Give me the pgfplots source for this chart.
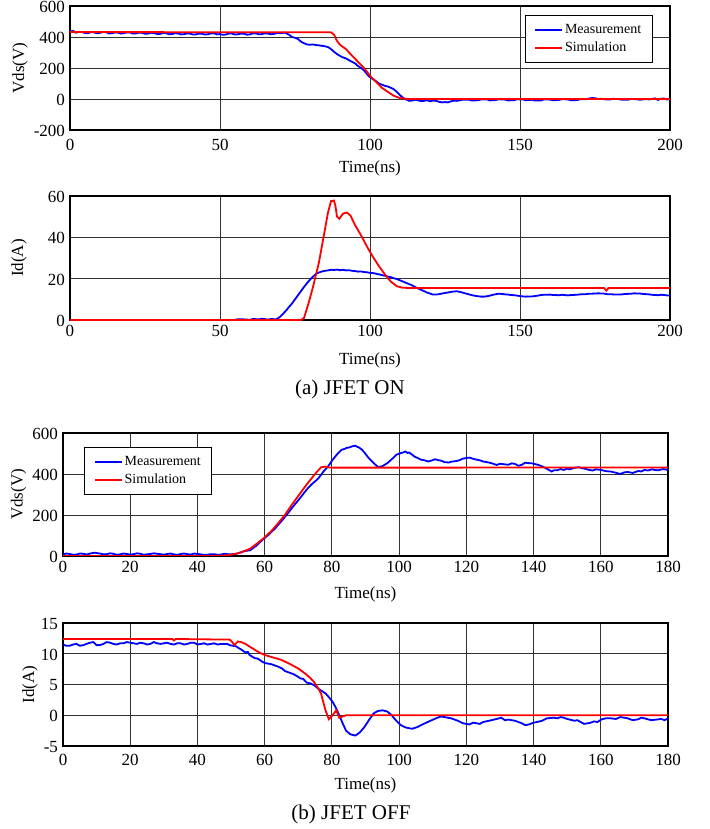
\documentclass[border=0pt]{standalone}
\usepackage{fontspec}
\setmainfont{Liberation Serif}
\usepackage{pgfplots}
\pgfplotsset{compat=1.18}
\pgfplotsset{
  myax/.style={
    scale only axis, anchor=north west,
    grid=major, major grid style={black!80, line width=0.8pt},
    axis line style={black, line width=1.2pt},
    major tick length=0pt,
    tick label style={font=\fontsize{17}{20}\selectfont},
    /pgf/number format/assume math mode=true,
    xlabel={Time(ns)},
    every axis x label/.style={at={(axis description cs:0.5,0)}, anchor=center, font=\fontsize{17}{20}\selectfont},
    every axis y label/.style={anchor=center, rotate=90, font=\fontsize{17}{20}\selectfont},
    yticklabel style={xshift=-1.5pt, yshift=-1pt},
    legend cell align=left,
    legend image code/.code={\draw[##1] (0pt,0pt) -- (27pt,0pt);},
    legend style={font=\fontsize{14}{16}\selectfont, draw=black, line width=0.8pt, fill=white,
      anchor=north west, inner xsep=9pt, inner ysep=7pt, row sep=3pt,
      nodes={inner xsep=2pt, inner ysep=2pt}},
  },
  meas/.style={blue, line width=1.8pt},
  sim/.style={red, line width=1.8pt},
}
\begin{document}
\begin{tikzpicture}
\useasboundingbox (0pt,0pt) rectangle (709pt,-829pt);
% ---------------- (a) Vds ON
\begin{axis}[myax, at={(70pt,-6pt)}, width=600pt, height=124pt,
  xmin=0, xmax=200, ymin=-200, ymax=600,
  xtick={0,50,...,200}, ytick={-200,0,...,600},
  xticklabel style={yshift=-6pt},
  xlabel style={yshift=-38pt}, ylabel={Vds(V)}, ylabel style={at={(axis description cs:-0.0833,0.5)}},
  legend style={at={(0.758,0.927)}}]
\addplot[meas] coordinates {(0,435)(1,440)(2,428)(3,433)(4,432)(5,426)(6,425)(7,431)(8,430)(9,424)(10,427)(11,432)(12,431)(13,423)(14,424)(15,430)(16,428)(17,422)(18,425)(19,430)(20,429)(21,422)(22,423)(23,428)(24,427)(25,421)(26,422)(27,427)(28,426)(29,419)(30,420)(31,426)(32,425)(33,418)(34,419)(35,424)(36,423)(37,417)(38,418)(39,423)(40,422)(41,416)(42,417)(43,422)(44,421)(45,416)(46,418)(47,423)(48,424)(49,417)(50,419)(51,414)(52,416)(53,423)(54,422)(55,416)(56,418)(57,422)(58,421)(59,415)(60,417)(61,424)(62,423)(63,417)(64,419)(65,424)(66,422)(67,418)(68,420)(69,426)(70,425)(71.7,428)(73,415)(74,400)(75,395)(76,387)(77,370)(78,360)(79,352)(80,350)(81,352)(82,348)(83,346)(84,343)(85,340)(86,335)(87,322)(88,305)(89,290)(90,278)(91,268)(92,262)(93,250)(94,240)(95,230)(96,213)(97,200)(98,185)(99,160)(100,140)(101,128)(102,115)(103,100)(104,92)(105,85)(106,80)(107,72)(108,62)(109,45)(110,25)(111,8)(112,-2)(113,-12)(114,-10)(115,-5)(116,-8)(117,-14)(118,-12)(119,-8)(120,-15)(121,-10)(122,-12)(123,-18)(124,-22)(125,-20)(126,-22)(127,-15)(128,-10)(129,-12)(130,-8)(131,-4)(133,-5)(134,-10)(136,-8)(137,-3)(139,-3)(140,-9)(142,-6)(143,-2)(145,-4)(146,-9)(148,-8)(149,-2)(151,-3)(152,-8)(154,-5)(155,-10)(157,-9)(158,-3)(160,-4)(161,-8)(163,-6)(164,-1)(166,-3)(167,-8)(169,-7)(170,-2)(172,-2)(173,3)(174,6)(175,5)(176,0)(177,2)(178,-2)(180,-3)(181,1)(183,-1)(184,-5)(186,-5)(187,1)(189,-2)(190,-5)(192,0)(193,-3)(195,4)(196,-6)(197,2)(198,3)(199,-3)(200,0)};
\addlegendentry{Measurement}
\addplot[sim] coordinates {(0,432)(87,430)(88,415)(88.5,395)(89,375)(90,350)(91,335)(92,322)(93,300)(94,280)(96,240)(98,200)(99,175)(100,150)(102,110)(104,72)(106,45)(108,20)(110,6)(112,1)(115,0)(200,0)};
\addlegendentry{Simulation}
\end{axis}
% ---------------- (a) Id ON
\begin{axis}[myax, at={(70pt,-196pt)}, width=600pt, height=124pt,
  xmin=0, xmax=200, ymin=0, ymax=60,
  xtick={0,50,...,200}, ytick={0,20,40,60},
  xticklabel style={yshift=-1.5pt},
  xlabel style={yshift=-40pt}, ylabel={Id(A)}, ylabel style={at={(axis description cs:-0.085,0.5)}}]
\addplot[meas] coordinates {(0,0)(55,0)(56,0.4)(58,0.3)(60,0.1)(61,0.5)(63,0.3)(64,0.6)(66,0.2)(67,0.5)(68.7,0.3)(70,1.5)(71,3)(72,4.5)(73,6.3)(74,8)(75,10)(76,12)(77,14)(78,16)(79,17.8)(80,19.5)(81,21)(82,22.3)(83,23)(84,23.5)(85,23.8)(86,24)(87,24.3)(88,24.2)(89,24.4)(90,24.1)(91,24.3)(92,24)(93,24.1)(94,23.8)(95,23.7)(96,23.4)(97,23.5)(98,23.2)(99,23.1)(100,22.8)(101,22.7)(102,22.4)(103,22.1)(104,21.7)(105,21.4)(106,21)(107,20.7)(108,20.2)(109,19.8)(110,19.2)(111,18.6)(112,18)(113,17.4)(114,16.8)(115,16)(116,15.3)(117,14.6)(118,14)(119,13.3)(120,12.8)(121,12.3)(122,12.3)(123,12.5)(124,12.8)(125,13.1)(126,13.3)(127,13.6)(128,13.8)(129,13.9)(130,13.6)(131,13.2)(132,12.8)(133,12.4)(134,12)(135,11.7)(136,11.5)(137,11.3)(138,11.3)(139,11.5)(140,11.8)(141,12.2)(142,12.5)(143,12.7)(144,12.6)(145,12.4)(146,12.3)(147,12.1)(148,12)(149,11.8)(150,11.6)(151,11.4)(152,11.3)(153,11.4)(154,11.4)(155,11.6)(156,11.8)(157,12.1)(158,12.2)(159,12.2)(160,12.3)(161,12.1)(163,12)(164,12.2)(166,11.9)(167,12.1)(169,12.2)(170,12.4)(172,12.5)(173,12.7)(175,12.8)(176,12.9)(178,12.8)(179,12.5)(181,12.4)(182,12.3)(184,12.4)(185,12.6)(187,12.7)(188,12.9)(190,12.8)(191,12.6)(193,12.4)(194,12.2)(196,12)(197,12.2)(198,12.1)(199,11.9)(200,11.9)};
\addplot[sim] coordinates {(0,0)(77,0)(78,1)(79.5,8)(81,16)(83,28)(84.5,40)(86,52)(87,57.5)(88,57.8)(88.5,55)(89,50)(89.8,49)(91,51.5)(92.3,52)(93.5,50.5)(95,46)(97,41)(99,35.5)(101,30.5)(103,26)(105,22)(107,18.5)(109,16.3)(111,15.6)(113,15.5)(178,15.5)(178.8,14.2)(179.5,15.5)(200,15.5)};
\end{axis}
\node[font=\fontsize{21}{24}\selectfont] at (350pt,-389pt) {(a) JFET ON};
% ---------------- (b) Vds OFF
\begin{axis}[myax, at={(63pt,-433pt)}, width=605pt, height=123pt,
  xmin=0, xmax=180, ymin=0, ymax=600,
  xtick={0,20,...,180}, ytick={0,200,400,600},
  xticklabel style={yshift=-2pt},
  xlabel style={yshift=-38pt}, ylabel={Vds(V)}, ylabel style={at={(axis description cs:-0.0736,0.5)}},
  legend style={at={(0.0355,0.885)}}]
\addplot[meas] coordinates {(0,8)(1,12)(2,10)(3,6)(4,7)(5,12)(6,11)(7,7)(8,12)(9.5,16)(10.5,13)(11,12)(12,8)(13,9)(14,13)(15,11)(16,6)(17,8)(18,12)(19,10)(20,7)(21,9)(22,13)(23,11)(24,6)(25,8)(26,10)(27,13)(28,11)(29,9)(30,6)(31,10)(32,12)(33,8)(34,5)(35,10)(36,12)(37,9)(38,7)(39,12)(40,10)(41,8)(42,5)(43,6)(44,9)(45,9)(46,6)(47,7)(48,11)(49,9)(50,8)(51.6,11)(53,18)(54,24)(55.7,28)(56.5,38)(57.5,50)(58.5,66)(59.8,85)(61,101)(62,118)(63,132)(63.9,150)(65,170)(66,190)(67,210)(68,232)(69,252)(70,272)(71,292)(72,314)(73,333)(74,350)(75,364)(76,379)(77.4,410)(78.2,425)(79,440)(80.2,469)(81.5,495)(82.9,518)(83.7,522)(84.5,528)(85.3,530)(86,535)(87,538)(87.5,533)(88,530)(89,518)(90,498)(91,477)(92.5,452)(93.8,433)(95,438)(96.5,453)(98,475)(99.2,494)(100.5,502)(101.2,505)(101.9,510)(102.5,503)(103,505)(104.6,485)(105.5,478)(106.5,470)(107.5,467)(108.7,461)(109.7,466)(110.7,472)(111.5,468)(112.5,465)(113.5,458)(114.8,456)(115.5,460)(116.5,462)(117.5,465)(118.2,469)(119,475)(120,478)(121,480)(122,474)(123,470)(124,467)(125,461)(126,458)(127,455)(128,450)(129,444)(130,450)(131,448)(132.5,445)(133.5,452)(134.5,449)(135.5,440)(136.5,445)(137.5,455)(138.6,453)(139.5,452)(140.5,448)(141.5,444)(142.7,436)(144,425)(145.4,412)(146,418)(147,418)(148,424)(149,420)(150,426)(150.9,423)(152,430)(153.5,433)(154.5,428)(155.5,425)(156.5,420)(157.6,417)(158.5,423)(160,420)(161.5,414)(163,412)(164.5,406)(165.8,400)(167,408)(168,410)(169.5,405)(171.2,415)(172,412)(173,420)(174,417)(175.3,423)(176,420)(177,418)(178.5,424)(180,420)};
\addlegendentry{Measurement}
\addplot[sim] coordinates {(0,0)(44,0)(47,2)(49,4)(51,9)(53,18)(55.7,36)(57.5,58)(59.8,88)(62,122)(63.9,158)(66,200)(68,248)(70,293)(72,338)(74,380)(75.5,410)(76.8,433)(78.1,436)(79,432)(80.2,431)(100,431)(180,432)};
\addlegendentry{Simulation}
\end{axis}
% ---------------- (b) Id OFF
\begin{axis}[myax, at={(63pt,-623pt)}, width=605pt, height=123pt,
  xmin=0, xmax=180, ymin=-5, ymax=15,
  xtick={0,20,...,180}, ytick={-5,0,...,15},
  xticklabel style={yshift=-5pt},
  xlabel style={yshift=-39pt}, ylabel={Id(A)}, ylabel style={at={(axis description cs:-0.0545,0.5)}}]
\addplot[meas] coordinates {(0,11.5)(1,11.3)(2,11.3)(3,11.5)(4,11.6)(5,11.3)(6,11.4)(7,11.6)(8,11.8)(9,11.9)(10,11.4)(11,11.4)(12,11.6)(13,11.9)(14,11.8)(15,11.6)(16,11.5)(17,11.7)(18,11.7)(19,11.9)(20,11.8)(21,11.7)(22,11.6)(23,11.8)(24,11.7)(25,11.5)(26,11.6)(27,11.9)(28,11.7)(29,11.6)(30,11.7)(31,11.8)(32,11.6)(33,11.5)(34,11.7)(35,11.7)(36,11.5)(37,11.6)(38,11.8)(39,11.8)(40,11.5)(41,11.6)(42,11.7)(43,11.5)(44,11.6)(45,11.7)(46,11.5)(47,11.6)(48.9,11.6)(49.6,11.4)(50.5,11.3)(51.6,11.2)(52.3,10.9)(53,10.7)(54.3,10.2)(55,10.3)(55.5,9.8)(57,9.3)(58,9.2)(59,8.8)(60,8.5)(61,8.4)(62,8.3)(63,8.1)(64,7.9)(65.2,7.6)(66,7.2)(67,7.0)(68.5,6.7)(69.5,6.4)(70.6,6.0)(71.5,5.9)(72.5,5.3)(73.5,5.2)(74.7,4.9)(76,4.3)(77.4,3.8)(78.2,3.5)(79,3.0)(80.2,2.2)(81.2,1.2)(82.2,0)(83.2,-1.3)(84.2,-2.5)(85.5,-3.1)(87,-3.3)(88.3,-2.8)(89.7,-1.9)(91,-0.8)(92.4,0.3)(93.7,0.7)(95.1,0.8)(96.5,0.6)(97.8,0)(99,-0.8)(100.5,-1.6)(102,-2.0)(103.9,-2.2)(105.5,-1.9)(107.3,-1.4)(109.3,-0.9)(111.4,-0.4)(112.5,-0.2)(113.5,-0.3)(115.5,-0.5)(117.5,-0.9)(119,-1.3)(120.9,-1.5)(122,-1.2)(123,-1.3)(124,-1.4)(125,-1.1)(127.5,-0.8)(129,-0.6)(130.4,-0.4)(131.5,-0.8)(132.5,-0.7)(134.5,-0.9)(136.5,-1.3)(137.5,-1.6)(138.6,-1.5)(140,-1.2)(141,-1.1)(142.5,-0.9)(144,-0.5)(146,-0.4)(147,-0.5)(148.1,-0.3)(149,-0.4)(150,-0.6)(152.2,-0.9)(153,-0.8)(154,-1.1)(155,-1.4)(156.3,-1.3)(157,-1.2)(158,-1.0)(159,-1.1)(160.3,-0.65)(161.5,-0.5)(163,-0.5)(164.5,-0.6)(165.8,-0.3)(167,-0.4)(168,-0.5)(169.5,-0.8)(171.2,-0.65)(172,-0.4)(173,-0.5)(175,-0.8)(176.6,-0.7)(178,-0.6)(179,-0.8)(180,-0.5)};
\addplot[sim] coordinates {(0,12.4)(32.5,12.4)(33,12.15)(33.5,12.4)(49.6,12.3)(50.5,11.8)(51,11.4)(52,12.0)(53,11.9)(54.3,11.6)(56,11.0)(58.4,10.2)(60,9.8)(62.5,9.4)(65,9.0)(68,8.2)(70,7.6)(72,6.8)(73.5,6.1)(74.7,5.4)(75.8,4.5)(76.8,3.5)(77.5,2.0)(78.1,0.8)(79.1,-0.65)(80.2,0)(81.3,0.8)(82.2,-0.4)(84.2,0)(180,0)};
\end{axis}
\node[font=\fontsize{21}{24}\selectfont] at (351pt,-814pt) {(b) JFET OFF};
\end{tikzpicture}
\end{document}
